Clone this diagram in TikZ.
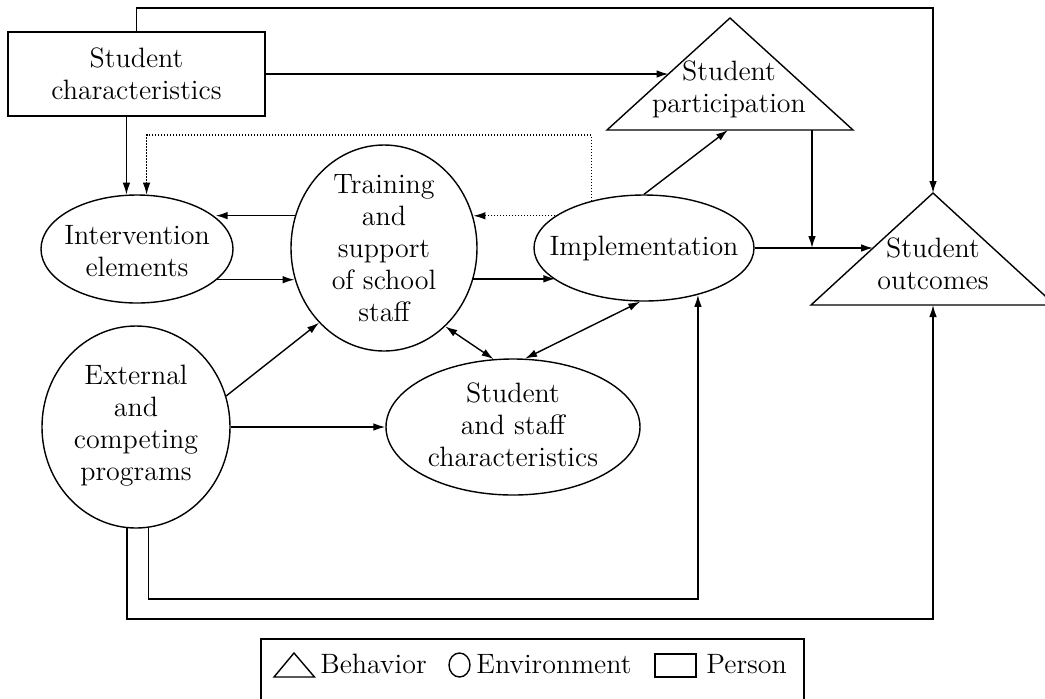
\documentclass[tikz,border=0pt]{standalone}
\usetikzlibrary{shapes.geometric,arrows.meta,calc}
\newcommand\figfs{\fontsize{14}{16}\selectfont}
\begin{document}
\begin{tikzpicture}[x=0.5pt,y=-0.5pt,
  lw/.style={line width=0.7pt},
  ell/.style={draw, ellipse, inner sep=0pt, line width=0.7pt},
  lbl/.style={align=center, inner sep=0pt, font=\figfs},
  arr/.style={-{Latex[length=6pt,width=3.8pt]}, line width=0.7pt},
  dbl/.style={{Latex[length=6pt,width=3.8pt]}-{Latex[length=6pt,width=3.8pt]}, line width=0.7pt},
  dotline/.style={-{Latex[length=6pt,width=3.8pt]}, line width=0.55pt, dash pattern=on 0.6pt off 0.9pt}]
\useasboundingbox (0,0) rectangle (1045,698);

% Person box
\node[draw, lw, rectangle, minimum width=128.5pt, minimum height=42pt, inner sep=0pt, align=center, font=\figfs] (box) at (136.5,74) {Student\\characteristics};

% Ellipses
\node[ell, minimum width=96pt, minimum height=54pt] (I) at (137,249) {};
\node[lbl] (It) at (137,251) {Intervention\\elements};
\node[ell, minimum width=93pt, minimum height=103pt] (T) at (384,248) {};
\node[lbl] (Tt) at (384,248) {Training\\and\\support\\of school\\staff};
\node[ell, minimum width=110pt, minimum height=53pt] (P) at (644,248) {};
\node[lbl] (Pt) at (644,248) {Implementation};
\node[ell, minimum width=94pt, minimum height=101pt] (E) at (136,427) {};
\node[lbl] (Et) at (136,426) {External\\and\\competing\\programs};
\node[ell, minimum width=127pt, minimum height=68pt] (S) at (513,427) {};
\node[lbl] (St) at (513,425) {Student\\and staff\\characteristics};

% Triangles
\coordinate (spA) at (730,18);
\coordinate (spL) at (607,130);
\coordinate (spR) at (853,130);
\draw[lw, line join=miter] (spL) -- (spA) -- (spR) -- cycle;
\node[lbl] (spT) at (729,89) {Student\\participation};
\coordinate (soA) at (933,193);
\coordinate (soL) at (811,305);
\coordinate (soR) at (1055,305);
\draw[lw, line join=miter] (soL) -- (soA) -- (soR) -- cycle;
\node[lbl] (soT) at (933,264) {Student\\outcomes};

\coordinate (spE) at ($(spL)!0.5!(spA)$);
\coordinate (soE) at ($(soL)!0.509!(soA)$);
\coordinate (spIn) at (728,130);
\coordinate (spOut) at (812,130);
\coordinate (soB) at (933,305);
\coordinate (toprail) at (933,8);
\coordinate (dotrail) at (0,135);
\coordinate (rail1) at (0,599);
\coordinate (rail2) at (0,619);

% Connectors
\draw[arr] (box.north) |- (toprail) -- (soA);
\draw[arr] (box.east) -- (box.east -| spE);
\draw[arr] (I.101.6 |- box.south) -- (I.101.6);
\draw[dotline] (P.138.1) |- (I.80.5 |- dotrail) -- (I.80.5);
\draw[arr] (T.160.74) -- (T.160.74 -| I.22.5);
\draw[arr] (I.-21.5) -- (I.-21.5 -| T.199.86);
\draw[dotline] (P.160.84) -- (P.160.84 -| T.19.26);
\draw[arr] (T.-19.9) -- (T.-19.9 -| P.200.05);
\draw[arr] (P.north) -- (spIn);
\draw[arr] (P.east) -- (P.east -| soE);
\draw[arr] (spOut) -- (spOut |- P.east);
\draw[arr] (E.19.4) -- (T.229);
\draw[arr] (E.east) -- (S.west);
\draw[dbl] (T.-52.6) -- (S.106.2);
\draw[dbl] (S.80) -- (P.266);
\draw[arr] (E.-83.7) |- (P.-41.2 |- rail1) -- (P.-41.2);
\draw[arr] (E.-95.1) |- (soB |- rail2) -- (soB);

% Legend
\coordinate (lgBL) at (261,710);
\coordinate (lgTL) at (261,639);
\coordinate (lgTR) at (804,639);
\coordinate (lgBR) at (804,710);
\draw[lw] (lgBL) -- (lgTL) -- (lgTR) -- (lgBR);
\coordinate (ltA) at (294,653);
\coordinate (ltL) at (274,677);
\coordinate (ltR) at (314.5,677);
\draw[lw, line join=miter] (ltL) -- (ltA) -- (ltR) -- cycle;
\node[anchor=base west, inner sep=0pt, font=\figfs] (lgB) at (320,673) {Behavior};
\node[draw, lw, ellipse, inner sep=0pt, minimum width=10.5pt, minimum height=12pt] (lgC) at (459.5,665) {};
\node[anchor=base west, inner sep=0pt, font=\figfs] (lgE) at (476,673) {Environment};
\node[draw, lw, rectangle, inner sep=0pt, minimum width=20.5pt, minimum height=11.5pt] (lgR) at (675.5,665.5) {};
\node[anchor=base west, inner sep=0pt, font=\figfs] (lgP) at (706,673) {Person};
\end{tikzpicture}
\end{document}
